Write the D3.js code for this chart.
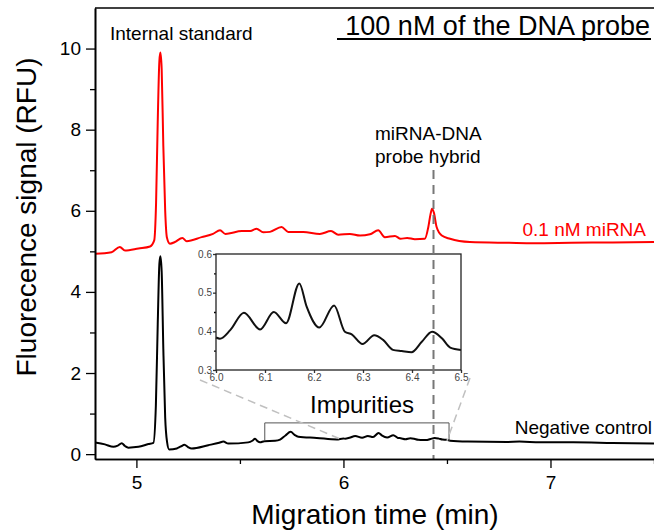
<!DOCTYPE html>
<html>
<head>
<meta charset="utf-8">
<script src="https://cdn.jsdelivr.net/npm/d3@7"></script>
<style>
  body { margin: 0; background: #fff; }
  text { font-family: "Liberation Sans", Arial, sans-serif; }
</style>
</head>
<body>
<script>
// negative control (black trace)
var negTime = [4.80, 4.848, 4.889, 4.91, 4.929, 4.945, 4.961, 5.01, 5.058, 5.082, 5.094, 5.103, 5.111, 5.116, 5.122, 5.13, 5.139, 5.148, 5.158,
  5.195, 5.215, 5.232, 5.25, 5.267, 5.347, 5.40, 5.42, 5.444, 5.54, 5.56, 5.573, 5.585, 5.597, 5.618, 5.67, 5.694, 5.72, 5.745, 5.765, 5.782,
  5.871, 5.968, 6.0, 6.008, 6.029, 6.057, 6.09, 6.118, 6.143, 6.17, 6.185, 6.211, 6.241, 6.263, 6.277, 6.299, 6.323, 6.341, 6.361, 6.379,
  6.399, 6.42, 6.441, 6.461, 6.478, 6.5, 6.515, 6.6, 6.789, 6.85, 6.95, 7.11, 7.3, 7.5];
var negSignal = [0.29, 0.24, 0.18, 0.21, 0.27, 0.20, 0.16, 0.18, 0.25, 0.28, 1.2, 3.2, 4.7, 4.88, 4.5, 2.6, 0.9, 0.3, 0.115,
  0.14, 0.19, 0.23, 0.17, 0.14, 0.22, 0.28, 0.31, 0.26, 0.29, 0.33, 0.38, 0.32, 0.29, 0.32, 0.33, 0.36, 0.46, 0.55, 0.47, 0.43,
  0.40, 0.36, 0.384, 0.381, 0.403, 0.448, 0.405, 0.45, 0.421, 0.524, 0.464, 0.41, 0.467, 0.399, 0.392, 0.367, 0.39, 0.378, 0.352, 0.349,
  0.346, 0.373, 0.399, 0.382, 0.358, 0.352, 0.33, 0.31, 0.30, 0.31, 0.29, 0.29, 0.275, 0.26];

// 0.1 nM miRNA (red trace)
var mirTime = [4.80, 4.88, 4.92, 4.945, 5.01, 5.066, 5.086, 5.095, 5.103, 5.111, 5.116, 5.122, 5.13, 5.139, 5.147, 5.162, 5.186, 5.222, 5.243,
  5.315, 5.37, 5.404, 5.43, 5.51, 5.55, 5.58, 5.613, 5.645, 5.701, 5.733, 5.806, 5.886, 5.94, 5.975, 6.031, 6.08, 6.128, 6.168, 6.2,
  6.249, 6.276, 6.308, 6.345, 6.393, 6.41, 6.42, 6.428, 6.437, 6.45, 6.475, 6.515, 6.611, 6.8, 6.92, 7.1, 7.3, 7.5];
var mirSignal = [4.94, 4.98, 5.11, 5.02, 5.07, 5.12, 5.27, 6.2, 8.2, 9.7, 9.9, 9.5, 7.6, 6.0, 5.35, 5.19, 5.23, 5.33, 5.25,
  5.35, 5.43, 5.52, 5.43, 5.50, 5.50, 5.56, 5.47, 5.48, 5.60, 5.48, 5.48, 5.43, 5.50, 5.41, 5.43, 5.39, 5.42, 5.52, 5.35,
  5.38, 5.31, 5.33, 5.30, 5.31, 5.60, 5.90, 6.05, 5.95, 5.60, 5.39, 5.31, 5.23, 5.21, 5.20, 5.21, 5.22, 5.23];

var xMajor = [5, 6, 7];
var xMinor = [5.5, 6.5, 7.5];
var yMajor = [0, 2, 4, 6, 8, 10];
var yMinor = [1, 3, 5, 7, 9];
var insetXTicks = [6.0, 6.1, 6.2, 6.3, 6.4, 6.5];
var insetYTicks = [0.3, 0.4, 0.5, 0.6];
var insetYMinor = [0.35, 0.45, 0.55];

var hybridTime = 6.435;
var impurityRange = [5.62, 6.51];

var width = 654, height = 531;
var margin = ({top: 8, right: 0, bottom: 72, left: 95});

var negData = negTime.map((t, i) => ({t: t, v: negSignal[i]}));
var mirData = mirTime.map((t, i) => ({t: t, v: mirSignal[i]}));

var x = d3.scaleLinear()
    .domain([4.8, 7.5])
    .range([margin.left, width - margin.right]);

var y = d3.scaleLinear()
    .domain([-0.12, 11])
    .range([height - margin.bottom, margin.top]);

const svg = d3.select("body").append("svg")
    .attr("width", width)
    .attr("height", height);

svg.append("clipPath").attr("id", "plot")
  .append("rect")
    .attr("x", margin.left).attr("y", margin.top)
    .attr("width", width - margin.left - margin.right)
    .attr("height", height - margin.bottom - margin.top);

var line = d3.line()
    .x(d => x(d.t))
    .y(d => y(d.v))
    .curve(d3.curveMonotoneX);

//traces
svg.append("path")
    .datum(mirData)
    .attr("clip-path", "url(#plot)")
    .attr("fill", "none")
    .attr("stroke", "#ff0000")
    .attr("stroke-width", 2)
    .attr("d", line);

svg.append("path")
    .datum(negData)
    .attr("clip-path", "url(#plot)")
    .attr("fill", "none")
    .attr("stroke", "#000")
    .attr("stroke-width", 2)
    .attr("d", line);

//impurities bracket
svg.append("path")
    .attr("fill", "none")
    .attr("stroke", "#555")
    .attr("stroke-width", 1)
    .attr("d", d3.line()([
        [x(impurityRange[0]), y(0.33)], [x(impurityRange[0]), y(0.77)],
        [x(impurityRange[1]), y(0.77)], [x(impurityRange[1]), y(0.33)]
    ]));

//inset
var inset = ({left: 216, right: 461, top: 254, bottom: 370});

var ix = d3.scaleLinear().domain([6.0, 6.5]).range([inset.left, inset.right]);
var iy = d3.scaleLinear().domain([0.3, 0.6]).range([inset.bottom, inset.top]);

//zoom guide lines
svg.append("g")
    .attr("stroke", "#c0c0c0")
    .attr("stroke-width", 1.5)
    .attr("stroke-dasharray", "8,5")
  .selectAll("line")
  .data([
    [inset.left - 16, inset.bottom + 10, x(6.0), y(0.34)],
    [inset.right + 9, inset.bottom + 8, x(6.5), y(0.33)]
  ])
  .enter().append("line")
    .attr("x1", d => d[0]).attr("y1", d => d[1])
    .attr("x2", d => d[2]).attr("y2", d => d[3]);

svg.append("rect")
    .attr("x", inset.left).attr("y", inset.top)
    .attr("width", inset.right - inset.left)
    .attr("height", inset.bottom - inset.top)
    .attr("fill", "#fff");

var insetLine = d3.line()
    .x(d => ix(d.t))
    .y(d => iy(d.v))
    .curve(d3.curveMonotoneX);

svg.append("path")
    .datum(negData.filter(d => d.t >= 6.0 && d.t <= 6.5))
    .attr("fill", "none")
    .attr("stroke", "#111")
    .attr("stroke-width", 2)
    .attr("d", insetLine);

var insetX = svg.append("g")
    .attr("transform", `translate(0,${inset.bottom})`)
    .call(d3.axisBottom(ix).tickValues(insetXTicks).tickFormat(d3.format(".1f")).tickSize(3).tickPadding(1).tickSizeOuter(0));
var insetY = svg.append("g")
    .attr("transform", `translate(${inset.left},0)`)
    .call(d3.axisLeft(iy).tickValues(insetYTicks).tickFormat(d3.format(".1f")).tickSize(3).tickPadding(1).tickSizeOuter(0));
svg.append("g")
    .attr("transform", `translate(${inset.left},0)`)
    .call(d3.axisLeft(iy).tickValues(insetYMinor).tickFormat("").tickSize(2).tickSizeOuter(0))
    .call(g => g.select(".domain").remove());

[insetX, insetY].forEach(g => {
    g.selectAll("text").attr("font-size", 10).attr("fill", "#444")
        .attr("font-family", "'Liberation Sans', Arial, sans-serif");
    g.selectAll("line").attr("stroke", "#333");
    g.select(".domain").remove();
});

svg.append("rect")
    .attr("x", inset.left).attr("y", inset.top)
    .attr("width", inset.right - inset.left)
    .attr("height", inset.bottom - inset.top)
    .attr("fill", "none")
    .attr("stroke", "#222")
    .attr("stroke-width", 1.3);

//hybrid marker
svg.append("line")
    .attr("x1", x(hybridTime)).attr("x2", x(hybridTime))
    .attr("y1", 170).attr("y2", y.range()[0])
    .attr("stroke", "#777")
    .attr("stroke-width", 2)
    .attr("stroke-dasharray", "9,6");

//main axes
var xAxis = g => g
    .attr("transform", `translate(0,${height - margin.bottom})`)
    .call(d3.axisBottom(x).tickValues(xMajor).tickFormat(d3.format("d")).tickSize(9).tickPadding(8).tickSizeOuter(0));
var xAxisMinor = g => g
    .attr("transform", `translate(0,${height - margin.bottom})`)
    .call(d3.axisBottom(x).tickValues(xMinor).tickFormat("").tickSize(5).tickSizeOuter(0));
var yAxis = g => g
    .attr("transform", `translate(${margin.left},0)`)
    .call(d3.axisLeft(y).tickValues(yMajor).tickFormat(d3.format("d")).tickSize(9).tickPadding(5).tickSizeOuter(0));
var yAxisMinor = g => g
    .attr("transform", `translate(${margin.left},0)`)
    .call(d3.axisLeft(y).tickValues(yMinor).tickFormat("").tickSize(5).tickSizeOuter(0));

svg.append("g").call(xAxisMinor);
svg.append("g").call(yAxisMinor);
svg.append("g").call(xAxis);
svg.append("g").call(yAxis);

svg.selectAll(".domain").attr("stroke-width", 1.6);
svg.selectAll(".tick line").attr("stroke-width", 1.3);
svg.selectAll(".tick text").filter(function() { return !this.getAttribute("font-size"); })
    .attr("font-size", 19)
    .attr("font-family", "'Liberation Sans', Arial, sans-serif");

//top frame line
svg.append("line")
    .attr("x1", margin.left).attr("x2", width)
    .attr("y1", margin.top).attr("y2", margin.top)
    .attr("stroke", "#000")
    .attr("stroke-width", 1.6);

//axis titles
svg.append("text")
    .attr("x", 375).attr("y", 524)
    .attr("text-anchor", "middle")
    .attr("font-size", 28)
    .text("Migration time (min)");

svg.append("text")
    .attr("transform", "translate(36,217) rotate(-90)")
    .attr("text-anchor", "middle")
    .attr("font-size", 28)
    .text("Fluorecence signal (RFU)");

//annotations
svg.append("text")
    .attr("x", 110).attr("y", 40)
    .attr("font-size", 19)
    .text("Internal standard");

svg.append("text")
    .attr("x", 650).attr("y", 35)
    .attr("text-anchor", "end")
    .attr("font-size", 27)
    .text("100 nM of the DNA probe");
svg.append("line")
    .attr("x1", 337).attr("x2", 651)
    .attr("y1", 39).attr("y2", 39)
    .attr("stroke", "#000")
    .attr("stroke-width", 2);

svg.append("text")
    .attr("x", 375).attr("y", 140)
    .attr("font-size", 19)
    .text("miRNA-DNA");
svg.append("text")
    .attr("x", 375).attr("y", 163)
    .attr("font-size", 19)
    .text("probe hybrid");

svg.append("text")
    .attr("x", 646).attr("y", 236)
    .attr("text-anchor", "end")
    .attr("font-size", 19)
    .attr("fill", "#ff0000")
    .text("0.1 nM miRNA");

svg.append("text")
    .attr("x", 652).attr("y", 434)
    .attr("text-anchor", "end")
    .attr("font-size", 19)
    .text("Negative control");

svg.append("text")
    .attr("x", 362).attr("y", 413)
    .attr("text-anchor", "middle")
    .attr("font-size", 24)
    .text("Impurities");
</script>
</body>
</html>
